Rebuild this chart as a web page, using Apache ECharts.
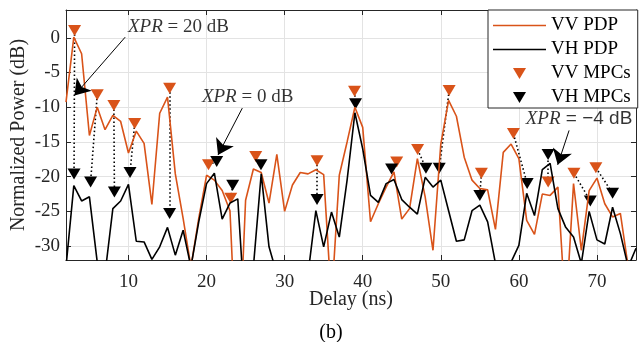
<!DOCTYPE html>
<html><head><meta charset="utf-8">
<script src="https://cdn.jsdelivr.net/npm/echarts@6/dist/echarts.min.js"></script>
<style>html,body{margin:0;padding:0;background:#fff}#c{width:639px;height:342px}</style>
</head><body><div id="c"></div>
<script>
// ---- data ----
const delays = [2,3,4,5,6,7,8,9,10,11,12,13,14,15,16,17,18,19,20,21,22,23,24,25,26,27,28,29,30,31,32,33,34,35,36,37,38,39,40,41,42,43,44,45,46,47,48,49,50,51,52,53,54,55,56,57,58,59,60,61,62,63,64,65,66,67,68,69,70,71,72,73,74,75];
const vvPdp = [-9.27,0.1,-2.3,-14.07,-9.99,-13.24,-11.16,-12.05,-16.6,-13.44,-15.2,-24.0,-10.87,-8.55,-19.6,-26,-33,-26,-19.8,-20.5,-22.0,-24.9,-50,-23.4,-18.9,-19.4,-23.8,-16.8,-25.0,-21.2,-19.4,-19.6,-19.0,-19.7,-38,-19.8,-15.0,-10.0,-12.9,-26.5,-23.9,-21.5,-19.3,-26.1,-24.6,-17.4,-22.9,-30.6,-15.3,-9.0,-11.3,-17.2,-20.5,-21.7,-21.9,-27.6,-16.5,-15.3,-17.4,-26.3,-28.3,-22.5,-22.7,-21.5,-40,-21.0,-30.6,-22.0,-20.2,-23.9,-25.8,-25.3,-33,-36];
const vhPdp = [-33,-21.3,-23.5,-22.9,-32.3,-34,-24.6,-23.5,-21.1,-29.3,-29.4,-31.9,-30.1,-27.3,-31.3,-27.7,-33,-26.5,-21.0,-19.5,-26.1,-23.8,-23.2,-41,-33,-19.6,-30.1,-34,-45,-45,-45,-34,-24.9,-30.1,-25.1,-28.7,-20.5,-10.8,-16.0,-22.7,-23.7,-21.0,-20.4,-23.3,-24.4,-25.4,-20.1,-21.5,-20.5,-24.9,-29.3,-29.1,-24.9,-24.1,-26.5,-32.5,-40,-32.3,-29.9,-22.4,-25.6,-19.0,-18.1,-24.6,-27.3,-28.7,-32.5,-25.0,-29.1,-29.7,-24.4,-28.2,-33,-30.3];
const vvMpcDelay = [3.1,6.0,8.13,10.8,15.27,20.25,23.1,26.3,34.15,38.95,44.35,47.03,51.07,55.2,59.3,63.75,67.05,69.86];
const vvMpcPower = [1.05,-8.2,-9.75,-12.35,-7.26,-18.3,-23.1,-17.1,-17.7,-7.7,-17.9,-16.1,-7.6,-19.5,-13.8,-20.75,-19.5,-18.7];
const vhMpcDelay = [3.03,5.15,8.2,10.2,15.27,21.3,23.35,26.97,34.15,39.08,43.7,48.1,49.8,55.0,61.06,63.74,69.15,72.0];
const vhMpcPower = [-19.6,-20.75,-22.2,-19.4,-25.3,-17.8,-21.25,-18.3,-23.3,-9.5,-18.9,-18.8,-18.8,-22.7,-21.0,-16.8,-23.5,-22.4];
const xTickLabels = [10,20,30,40,50,60,70];
const yTickLabels = [-30,-25,-20,-15,-10,-5,0];
const seriesNames = ['VV PDP','VH PDP','VV MPCs','VH MPCs'];

// ---- chart ----
const serif = 'Liberation Serif';
const sans = 'Liberation Sans';
const orange = '#D95319';
const axisColor = '#262626';
const chart = echarts.init(document.getElementById('c'), null, {renderer: 'canvas'});

const pdpPoints = vals => delays.map((d, i) => [d, vals[i]]);
const mpcPoints = (ds, ps) => ds.map((d, i) => [d, ps[i]]);
const pairLines = vvMpcDelay.map((d, i) => ({coords: [[d, vvMpcPower[i]], [vhMpcDelay[i], vhMpcPower[i]]]}));

const xBase = {
  type: 'value', min: 2, max: 75, splitNumber: 7,
  axisLine: {onZero: false, lineStyle: {color: axisColor, width: 1}},
  axisTick: {inside: true, length: 5, lineStyle: {color: axisColor}}
};
const yBase = {
  type: 'value', min: -32, max: 4, splitNumber: 7,
  axisLine: {onZero: false, lineStyle: {color: axisColor, width: 1}},
  axisTick: {inside: true, length: 5, lineStyle: {color: axisColor}}
};
const triIcon = 'path://M0,0L13,0L6.5,11Z';
const lineIcon = 'path://M0,0L53,0L53,1.6L0,1.6Z';

const option = {
  animation: false,
  backgroundColor: '#fff',
  grid: {left: 66, right: 1, top: 10, bottom: 82, containLabel: false},
  xAxis: [
    Object.assign({}, xBase, {
      position: 'bottom',
      axisLabel: {formatter: v => xTickLabels.includes(v) ? String(v) : '', fontFamily: serif, fontSize: 19, color: axisColor, margin: 13},
      splitLine: {show: true, lineStyle: {color: '#e3e3e3', width: 1}},
      name: 'Delay (ns)', nameLocation: 'middle', nameGap: 30, nameMoveOverlap: false,
      nameTextStyle: {fontFamily: serif, fontSize: 20, color: axisColor}
    }),
    Object.assign({}, xBase, {position: 'top', axisLabel: {show: false}, splitLine: {show: false}})
  ],
  yAxis: [
    Object.assign({}, yBase, {
      position: 'left',
      axisLabel: {formatter: v => yTickLabels.includes(v) ? String(v) : '', fontFamily: serif, fontSize: 19, color: axisColor, margin: 6},
      splitLine: {show: true, lineStyle: {color: '#e3e3e3', width: 1}},
      name: 'Normalized Power (dB)', nameLocation: 'middle', nameGap: 37, nameMoveOverlap: false,
      nameTextStyle: {fontFamily: serif, fontSize: 20, color: axisColor}
    }),
    Object.assign({}, yBase, {position: 'right', axisLabel: {show: false}, splitLine: {show: false}})
  ],
  legend: {
    data: [
      {name: seriesNames[0], icon: lineIcon},
      {name: seriesNames[1], icon: lineIcon},
      {name: seriesNames[2], icon: triIcon},
      {name: seriesNames[3], icon: triIcon}
    ],
    orient: 'vertical', left: 488, top: 10,
    itemWidth: 53, itemHeight: 11, itemGap: 5,
    padding: [6, 7, 1, 5],
    borderColor: axisColor, borderWidth: 1, borderRadius: 0,
    backgroundColor: '#fff',
    selectedMode: false,
    textStyle: {fontFamily: serif, fontSize: 19, color: '#000'}
  },
  series: [
    {name: seriesNames[0], type: 'line', data: pdpPoints(vvPdp), symbol: 'none', clip: true,
      lineStyle: {color: orange, width: 1.6}, itemStyle: {color: orange}},
    {name: seriesNames[1], type: 'line', data: pdpPoints(vhPdp), symbol: 'none', clip: true,
      lineStyle: {color: '#000', width: 1.6}, itemStyle: {color: '#000'}},
    {type: 'lines', coordinateSystem: 'cartesian2d', data: pairLines, silent: true,
      lineStyle: {color: '#000', width: 1.6, type: [1.5, 2.5], opacity: 1}, symbol: 'none'},
    {name: seriesNames[2], type: 'scatter', data: mpcPoints(vvMpcDelay, vvMpcPower),
      symbol: 'triangle', symbolRotate: 180, symbolSize: [13, 11], itemStyle: {color: orange, opacity: 1}},
    {name: seriesNames[3], type: 'scatter', data: mpcPoints(vhMpcDelay, vhMpcPower),
      symbol: 'triangle', symbolRotate: 180, symbolSize: [13, 11], itemStyle: {color: '#000', opacity: 1}},
    {type: 'lines', coordinateSystem: 'cartesian2d', silent: true, z: 5,
      data: [
        {coords: [[9.58, 0.09], [3.08, -8.3]]},
        {coords: [[24.58, -10.13], [21.47, -16.87]]},
        {coords: [[66.43, -13.34], [64.97, -18.3]]}
      ],
      symbol: ['none', 'arrow'], symbolSize: 15,
      lineStyle: {color: '#000', width: 1, opacity: 1}},
    {type: 'scatter', silent: true, symbolSize: 0, z: 6,
      label: {show: true, position: 'inside', align: 'center', verticalAlign: 'middle',
        fontFamily: serif, fontSize: 19, color: '#000',
        rich: {
          i: {fontFamily: serif, fontStyle: 'italic', fontSize: 19, color: '#000'},
          s: {fontFamily: sans, fontSize: 19, color: '#000'}
        }},
      data: [
        {value: [16.4, 1.53], label: {formatter: '{i|XPR} = 20 dB'}},
        {value: [25.26, -8.55], label: {formatter: '{i|XPR} = 0 dB'}},
        {value: [67.7, -11.66], label: {formatter: '{i|XPR}{s| = \u22124 dB}'}}
      ]}
  ],
  graphic: [
    {type: 'text', x: 331, y: 333, style: {text: '(b)', fontFamily: serif, fontSize: 20, fill: '#000',
      align: 'center', verticalAlign: 'middle', textAlign: 'center', textVerticalAlign: 'middle'}}
  ]
};
chart.setOption(option);
</script>
</body></html>
